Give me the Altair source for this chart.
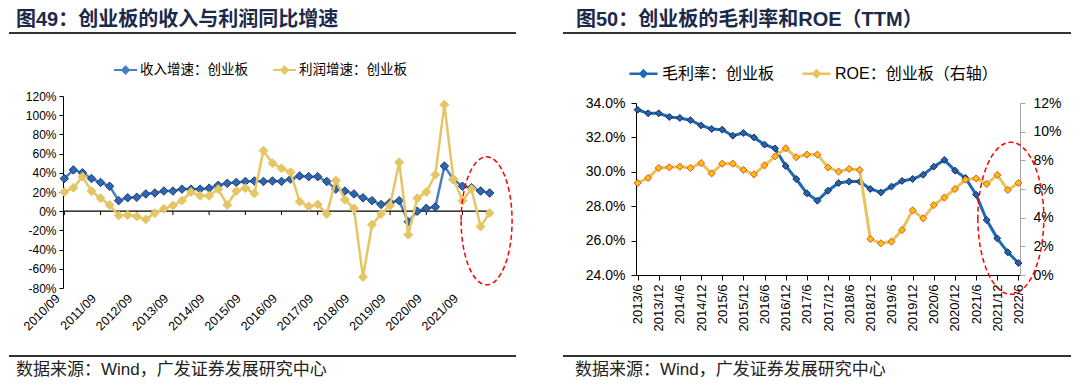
import altair as alt
import pandas as pd

# ---------------- data ----------------
LEFT_DATES = ["2010/09", "2010/12", "2011/03", "2011/06", "2011/09", "2011/12", "2012/03", "2012/06",
              "2012/09", "2012/12", "2013/03", "2013/06", "2013/09", "2013/12", "2014/03", "2014/06",
              "2014/09", "2014/12", "2015/03", "2015/06", "2015/09", "2015/12", "2016/03", "2016/06",
              "2016/09", "2016/12", "2017/03", "2017/06", "2017/09", "2017/12", "2018/03", "2018/06",
              "2018/09", "2018/12", "2019/03", "2019/06", "2019/09", "2019/12", "2020/03", "2020/06",
              "2020/09", "2020/12", "2021/03", "2021/06", "2021/09", "2021/12", "2022/03", "2022/06"]
LEFT_TICKS = ["2010/09", "2011/09", "2012/09", "2013/09", "2014/09", "2015/09", "2016/09",
              "2017/09", "2018/09", "2019/09", "2020/09", "2021/09"]
REV = [34, 43, 40, 34, 30, 26, 11, 14, 14.5, 18, 19, 21, 21, 23, 23, 23, 24, 27, 29, 30, 31, 31.5,
       31, 31.5, 31, 33.5, 36.7, 36, 36, 31, 23, 21, 18, 14, 11, 7, 9, 11, -11, 0, 3, 4.5, 47, 33,
       26, 24.5, 21, 19]
PROFIT = [20, 24.5, 36, 21, 13.5, 6.5, -4.5, -4, -5.5, -8.5, -2, 2.5, 6, 11, 20, 16, 16, 23, 6.5,
          21, 24, 18.5, 63, 50, 44.6, 40.5, 10, 5, 7, -3, 32, 12, 3, -68.5, -14, -3, 6, 51, -24.5,
          13.5, 20, 38, 111, 33.5, 11, 23, -16, -2]
LEFT_Y_TICKS = [-80, -60, -40, -20, 0, 20, 40, 60, 80, 100, 120]

RIGHT_DATES = ["2013/6", "2013/9", "2013/12", "2014/3", "2014/6", "2014/9", "2014/12", "2015/3",
               "2015/6", "2015/9", "2015/12", "2016/3", "2016/6", "2016/9", "2016/12", "2017/3",
               "2017/6", "2017/9", "2017/12", "2018/3", "2018/6", "2018/9", "2018/12", "2019/3",
               "2019/6", "2019/9", "2019/12", "2020/3", "2020/6", "2020/9", "2020/12", "2021/3",
               "2021/6", "2021/9", "2021/12", "2022/3", "2022/6"]
RIGHT_TICKS = ["2013/6", "2013/12", "2014/6", "2014/12", "2015/6", "2015/12", "2016/6", "2016/12",
               "2017/6", "2017/12", "2018/6", "2018/12", "2019/6", "2019/12", "2020/6", "2020/12",
               "2021/6", "2021/12", "2022/6"]
GM = [33.61, 33.4, 33.4, 33.19, 33.13, 33.0, 32.7, 32.49, 32.45, 32.1, 32.26, 32.0, 31.58, 31.36,
      30.34, 29.58, 28.75, 28.32, 28.9, 29.35, 29.43, 29.43, 29.0, 28.8, 29.14, 29.47, 29.58, 29.83,
      30.3, 30.69, 30.07, 29.64, 28.67, 27.2, 26.13, 25.32, 24.7]
ROE = [6.42, 6.77, 7.47, 7.51, 7.56, 7.47, 7.81, 7.09, 7.77, 7.77, 7.33, 7.02, 7.65, 8.28, 8.84,
       8.21, 8.4, 8.4, 7.51, 7.21, 7.4, 7.33, 2.51, 2.21, 2.33, 3.14, 4.51, 3.95, 4.88, 5.4, 6.0,
       6.65, 6.74, 6.35, 6.98, 5.93, 6.42]
GM_TICKS = [24, 26, 28, 30, 32, 34]
ROE_TICKS = [0, 2, 4, 6, 8, 10, 12]

REV_NAME = "收入增速：创业板"
PROFIT_NAME = "利润增速：创业板"
GM_NAME = "毛利率：创业板"
ROE_NAME = "ROE：创业板（右轴）"
LEFT_TITLE = "图49：创业板的收入与利润同比增速"
RIGHT_TITLE = "图50：创业板的毛利率和ROE（TTM）"
SOURCE = "数据来源：Wind，广发证券发展研究中心"

# ---------------- styles ----------------
FONT_LATIN = "Liberation Sans, Noto Sans CJK SC"
FONT_CJK = "Noto Sans CJK SC"
TITLE_COLOR = "#1B2A4A"
LEG_PATH_L = ("M-1,0L1,0M0,-0.3L0.3,0L0,0.3L-0.3,0ZM0,-0.2L0.2,0L0,0.2L-0.2,0Z"
              "M0,-0.1L0.1,0L0,0.1L-0.1,0Z")
LEG_PATH_R = ("M-1,0L1,0M0,-0.22L0.22,0L0,0.22L-0.22,0ZM0,-0.12L0.12,0L0,0.12L-0.12,0Z")
ELL_L = "M-0.398,0A0.398,1,0,1,0,0.398,0A0.398,1,0,1,0,-0.398,0Z"
ELL_R = "M-0.434,0A0.434,1,0,1,0,0.434,0A0.434,1,0,1,0,-0.434,0Z"


def deco(title, tx, ty, rx1, rx2, ry_top, ry_bot, sx, sy):
    t = alt.Chart(pd.DataFrame({"t": [title]})).mark_text(
        align="left", baseline="middle", font=FONT_LATIN, fontSize=20, fontWeight="bold",
        color=TITLE_COLOR).encode(x=alt.value(tx), y=alt.value(ty), text="t:N")
    r1 = alt.Chart(pd.DataFrame({"a": [0]})).mark_rule(color="#333333", strokeWidth=2).encode(
        x=alt.value(rx1), x2=alt.value(rx2), y=alt.value(ry_top))
    r2 = alt.Chart(pd.DataFrame({"a": [0]})).mark_rule(color="#333333", strokeWidth=2).encode(
        x=alt.value(rx1), x2=alt.value(rx2), y=alt.value(ry_bot))
    s = alt.Chart(pd.DataFrame({"t": [SOURCE]})).mark_text(
        align="left", baseline="middle", font=FONT_LATIN, fontSize=17, color="#222222").encode(
        x=alt.value(sx), y=alt.value(sy), text="t:N")
    return [t, r1, r2, s]


# ---------------- left panel ----------------
L_W, L_H = 428, 192
left_rev = pd.DataFrame({"date": LEFT_DATES, "value": REV, "series": REV_NAME})
left_prof = pd.DataFrame({"date": LEFT_DATES, "value": PROFIT, "series": PROFIT_NAME})

x_axis_l = alt.Axis(values=LEFT_TICKS, labelAngle=315, labelAlign="right",
                    labelBaseline="middle", domain=False, ticks=False, labelPadding=8,
                    labelOffset=-7, labelFont="Liberation Sans", labelFontSize=12.5,
                    labelColor="#000000", labelOverlap=False, grid=False)
y_axis_l = alt.Axis(values=LEFT_Y_TICKS, labelExpr="datum.value + '%'",
                    grid=False, domainColor="#000000", tickColor="#000000", tickSize=4,
                    labelPadding=3, labelFont="Liberation Sans", labelFontSize=12,
                    labelColor="#000000", labelOverlap=False, labelFlush=False)
y_scale_l = alt.Scale(domain=[-80, 120], nice=False, zero=False)

xl = alt.X("date:O", title=None, sort=None,
           scale=alt.Scale(type="point", domain=LEFT_DATES, padding=0.15), axis=x_axis_l)
yl = alt.Y("value:Q", title=None, scale=y_scale_l, axis=y_axis_l)
cl = alt.Color("series:N",
               scale=alt.Scale(domain=[REV_NAME, PROFIT_NAME], range=["#4A7EC2", "#E6C664"]),
               legend=alt.Legend(title=None, orient="none", legendX=50, legendY=-38.5,
                                 direction="horizontal", symbolType=LEG_PATH_L, symbolSize=529,
                                 symbolStrokeWidth=2, labelFont=FONT_CJK, labelFontSize=13.5,
                                 labelColor="#000000", labelOffset=2, columnPadding=21,
                                 labelLimit=300, padding=0))

zero_rule = alt.Chart(pd.DataFrame({"v": [0]})).mark_rule(color="#000000", strokeWidth=1.3).encode(
    y=alt.YDatum(0, title=None, scale=y_scale_l, axis=y_axis_l))
zero_ticks = alt.Chart(pd.DataFrame({"date": LEFT_TICKS})).mark_rule(
    color="#000000", strokeWidth=1).encode(
    x=xl, y=alt.YDatum(0, title=None, scale=y_scale_l, axis=y_axis_l), y2=alt.datum(-4))
rev_line = alt.Chart(left_rev).mark_line(strokeWidth=2.5).encode(x=xl, y=yl, color=cl)
rev_pts = alt.Chart(left_rev).mark_point(shape="diamond", size=72, filled=True, fill="#2F66B0",
                                         stroke="#1A3A6E", strokeWidth=1, opacity=1).encode(x=xl, y=yl)
prof_line = alt.Chart(left_prof).mark_line(strokeWidth=2.5).encode(x=xl, y=yl, color=cl)
prof_pts = alt.Chart(left_prof).mark_point(shape="diamond", size=80, filled=True, fill="#E6C664",
                                           stroke="#E6C664", strokeWidth=1, opacity=1).encode(x=xl, y=yl)
ell_l = alt.Chart(pd.DataFrame({"date": ["2022/03"], "value": [-10]})).mark_point(
    shape=ELL_L, size=16384, filled=False, stroke="#FF0000", strokeWidth=1.5,
    strokeDash=[5, 3], xOffset=6, opacity=1).encode(x=xl, y=yl)

left = alt.layer(rev_line, zero_rule, zero_ticks, rev_pts, prof_line, prof_pts, ell_l,
                 *deco(LEFT_TITLE, -47, -76, -54, 453, -63, 260, -47, 274)).properties(
    width=L_W, height=L_H)

# ---------------- right panel ----------------
R_W, R_H = 384, 179
R_TOP = 7
right_gm = pd.DataFrame({"date": RIGHT_DATES, "value": GM, "series": GM_NAME})
right_roe = pd.DataFrame({"date": RIGHT_DATES, "value": ROE, "series": ROE_NAME})

xr = alt.X("date:O", title=None, sort=None,
           scale=alt.Scale(type="point", domain=RIGHT_DATES, padding=0.15),
           axis=alt.Axis(values=RIGHT_TICKS, labelAngle=270, labelAlign="right",
                         labelBaseline="middle", domainColor="#000000", tickColor="#000000",
                         tickSize=5, labelPadding=4, labelFont="Liberation Sans",
                         labelFontSize=13, labelColor="#000000", labelOverlap=False, grid=False))
ygm = alt.Y("value:Q", title=None,
            scale=alt.Scale(domain=[24, 34], nice=False, zero=False, range=[R_H, R_TOP]),
            axis=alt.Axis(orient="left", values=GM_TICKS,
                          labelExpr="format(datum.value, '.1f') + '%'", grid=False,
                          domainColor="#000000", tickColor="#000000", tickSize=5,
                          labelPadding=6, labelFont="Liberation Sans", labelFontSize=14,
                          labelColor="#000000", labelOverlap=False, labelFlush=False))
yroe = alt.Y("value:Q", title=None,
             scale=alt.Scale(domain=[0, 12], nice=False, zero=True, range=[R_H, R_TOP]),
             axis=alt.Axis(orient="right", values=ROE_TICKS,
                           labelExpr="datum.value + '%'", grid=False,
                           domainColor="#A6A6A6", tickColor="#A6A6A6", tickSize=5,
                           labelPadding=8, labelFont="Liberation Sans", labelFontSize=14,
                           labelColor="#000000", labelOverlap=False, labelFlush=False))
cr = alt.Color("series:N",
               scale=alt.Scale(domain=[GM_NAME, ROE_NAME], range=["#1C6AB1", "#E8C35A"]),
               legend=alt.Legend(title=None, orient="none", legendX=-8, legendY=-38,
                                 direction="horizontal", symbolType=LEG_PATH_R, symbolSize=784,
                                 symbolStrokeWidth=2.5, labelFont=FONT_LATIN, labelFontSize=16,
                                 labelColor="#000000", labelOffset=3, columnPadding=22,
                                 labelLimit=400, padding=0))

gm_line = alt.Chart(right_gm).mark_line(strokeWidth=3).encode(x=xr, y=ygm, color=cr)
gm_pts = alt.Chart(right_gm).mark_point(shape="diamond", size=48, filled=True, fill="#2E5FA6",
                                        stroke="#102F60", strokeWidth=1, opacity=1).encode(x=xr, y=ygm)
ell_r = alt.Chart(pd.DataFrame({"date": ["2022/3"], "value": [27.3]})).mark_point(
    shape=ELL_R, size=23104, filled=False, stroke="#FF0000", strokeWidth=1.5,
    strokeDash=[5, 3], xOffset=3, opacity=1).encode(x=xr, y=ygm)
roe_line = alt.Chart(right_roe).mark_line(strokeWidth=3).encode(x=xr, y=yroe, color=cr)
roe_pts = alt.Chart(right_roe).mark_point(shape="diamond", size=50, filled=True, fill="#FFC000",
                                          stroke="#E0503C", strokeWidth=1, opacity=1).encode(x=xr, y=yroe)

right = alt.layer(
    alt.layer(gm_line, gm_pts, ell_r),
    alt.layer(roe_line, roe_pts),
    *deco(RIGHT_TITLE, -60, -76, -73, 435, -63, 260, -61, 274),
).resolve_scale(y="independent").properties(width=R_W, height=R_H)

chart = alt.hconcat(left, right, spacing=45).resolve_scale(color="independent").properties(
    padding={"left": 0, "top": 2, "right": 0, "bottom": 0},
    background="white").configure_view(stroke=None)

chart.save("out.html", embed_options={"renderer": "svg", "actions": False})
